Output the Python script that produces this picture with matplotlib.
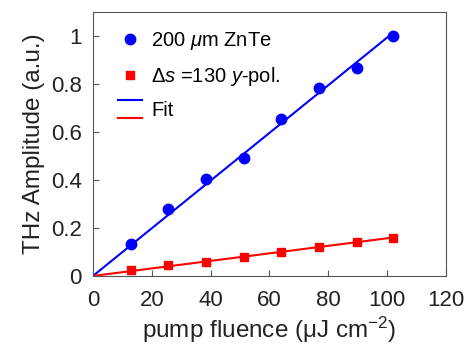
import numpy as np
import matplotlib.pyplot as plt
from matplotlib.lines import Line2D
from matplotlib.legend_handler import HandlerBase

plt.rcParams['font.family'] = ['Liberation Sans', 'DejaVu Sans']
plt.rcParams['mathtext.fontset'] = 'custom'
plt.rcParams['mathtext.rm'] = 'Liberation Sans'
plt.rcParams['mathtext.it'] = 'Liberation Sans:italic'

# --- data ---
fluence = [12.8, 25.6, 38.4, 51.2, 64.0, 76.8, 89.6, 102.0]
znte = [0.135, 0.28, 0.405, 0.49, 0.655, 0.785, 0.865, 1.0]
ds130 = [0.025, 0.045, 0.06, 0.08, 0.10, 0.12, 0.14, 0.16]

# linear fits through the origin
xf = np.array([0, fluence[-1]])
k_blue = np.dot(fluence, znte) / np.dot(fluence, fluence)
k_red = np.dot(fluence, ds130) / np.dot(fluence, fluence)


class TwoLines:
    pass


class HandlerTwoLines(HandlerBase):
    # blue line on top of a red one, both in one legend row
    def create_artists(self, legend, orig_handle, xdescent, ydescent,
                       width, height, fontsize, trans):
        top = Line2D([0, width], [height * 1.15] * 2, color='blue', lw=1.5, transform=trans)
        bot = Line2D([0, width], [-height * 0.15] * 2, color='red', lw=1.5, transform=trans)
        return [top, bot]


fig = plt.figure(figsize=(4.67, 3.52), dpi=100)
ax = fig.add_axes([0.199, 0.216, 0.756, 0.75])

ax.plot(xf, k_blue * xf, color='blue', lw=1.5)
ax.plot(xf, k_red * xf, color='red', lw=1.5)
ax.plot(fluence, znte, 'o', color='blue', ms=7.5)
ax.plot(fluence, ds130, 's', color='red', ms=6)

ax.set_xlim(0, 120)
ax.set_ylim(0, 1.1)
ax.set_xticks([0, 20, 40, 60, 80, 100, 120])
ax.set_yticks([0, 0.2, 0.4, 0.6, 0.8, 1.0])
ax.set_yticklabels(['0', '0.2', '0.4', '0.6', '0.8', '1'])
ax.tick_params(direction='in', labelsize=16, length=4, color='#555555',
               labelcolor='#222222')
ax.tick_params(axis='x', pad=10)
ax.tick_params(axis='y', pad=8)
for s in ax.spines.values():
    s.set_color('#555555')

ax.set_xlabel('pump fluence (μJ cm$^{-2}$)', fontsize=17.5, color='#222222', labelpad=3)
ax.set_ylabel('THz Amplitude (a.u.)', fontsize=17.5, color='#222222', labelpad=4)

h1 = Line2D([], [], marker='o', color='blue', ls='none', ms=7.5)
h2 = Line2D([], [], marker='s', color='red', ls='none', ms=6)
h3 = TwoLines()
ax.legend([h1, h2, h3],
          [r'200 $\mathit{\mu}$m ZnTe', r'$\Delta\mathit{s}$ =130 $\mathit{y}$-pol.', 'Fit'],
          handler_map={TwoLines: HandlerTwoLines()},
          loc='upper left', frameon=False, fontsize=14.5,
          handlelength=1.2, handletextpad=0.45, labelspacing=0.65,
          bbox_to_anchor=(0.02, 1.0))

fig.savefig('out.png', dpi=100)
